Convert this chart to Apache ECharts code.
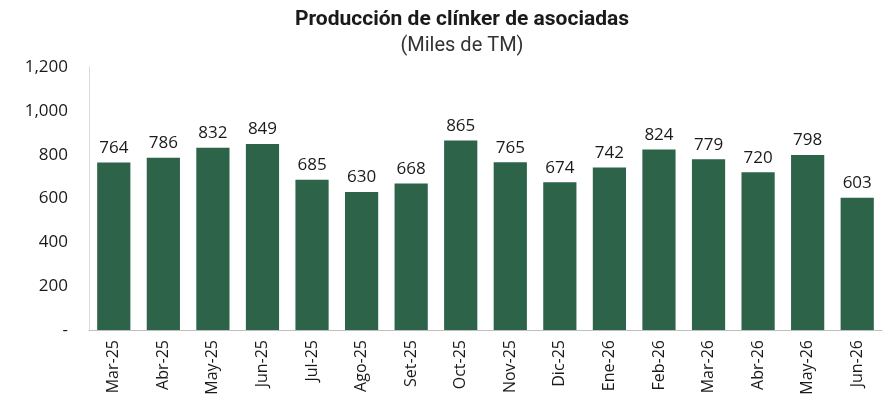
<!DOCTYPE html>
<html>
<head>
<meta charset="utf-8">
<script src="https://cdn.jsdelivr.net/npm/echarts@6/dist/echarts.min.js"></script>
<style>
  html, body { margin: 0; padding: 0; background: #fff; }
  #chart { width: 888px; height: 413px; }
</style>
</head>
<body>
<div id="chart"></div>
<script>
const months = ['Mar-25', 'Abr-25', 'May-25', 'Jun-25', 'Jul-25', 'Ago-25', 'Set-25', 'Oct-25',
  'Nov-25', 'Dic-25', 'Ene-26', 'Feb-26', 'Mar-26', 'Abr-26', 'May-26', 'Jun-26'];
const produccion = [764, 786, 832, 849, 685, 630, 668, 865, 765, 674, 742, 824, 779, 720, 798, 603];

const chart = echarts.init(document.getElementById('chart'));

const option = {
  animation: false,
  title: {
    text: 'Producción de clínker de asociadas',
    subtext: '(Miles de TM)',
    left: 457,
    textAlign: 'center',
    top: 4,
    itemGap: 6,
    textStyle: { fontFamily: 'Roboto', fontSize: 21, fontWeight: 'bold', color: '#1a1a1a' },
    subtextStyle: { fontFamily: 'Roboto', fontSize: 20, color: '#333' }
  },
  grid: { left: 89, right: 6, top: 67, bottom: 83 },
  xAxis: {
    type: 'category',
    data: months,
    axisLine: { lineStyle: { color: '#bfbfbf' } },
    axisTick: { show: false },
    axisLabel: { rotate: 90, color: '#1a1a1a', fontSize: 16, fontFamily: 'Open Sans', margin: 10 }
  },
  yAxis: {
    type: 'value',
    min: 0,
    max: 1200,
    interval: 200,
    axisLine: { show: true, lineStyle: { color: '#d9d9d9' } },
    splitLine: { show: false },
    axisLabel: {
      color: '#1a1a1a',
      fontSize: 17,
      fontFamily: 'Open Sans',
      margin: 21,
      formatter: function (v) { return v === 0 ? '-' : v.toLocaleString('en-US'); }
    }
  },
  series: [{
    type: 'bar',
    data: produccion,
    barCategoryGap: '33%',
    itemStyle: { color: '#2d6349' },
    label: {
      show: true,
      position: 'top',
      distance: 6,
      color: '#1a1a1a',
      fontSize: 17,
      fontFamily: 'Open Sans'
    }
  }]
};

chart.setOption(option);
</script>
</body>
</html>
